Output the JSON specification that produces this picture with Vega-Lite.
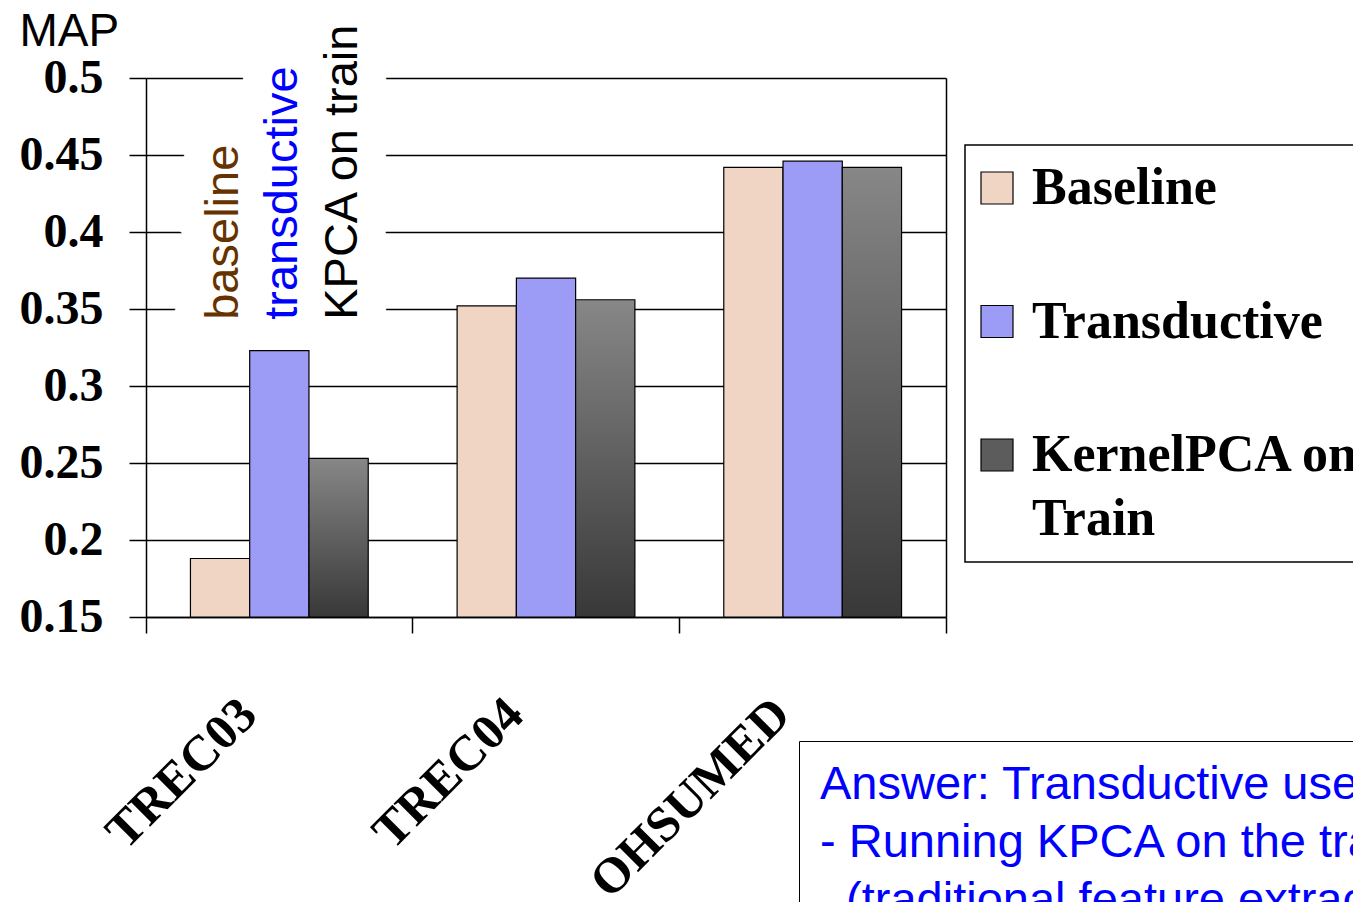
{
  "$schema": "https://vega.github.io/schema/vega-lite/v6.json",
  "autosize": "none",
  "width": 800,
  "height": 539,
  "padding": {"left": 146, "top": 78, "right": 407, "bottom": 285},
  "background": "white",
  "config": {
    "view": {"stroke": null},
    "axis": {"domainColor": "black", "tickColor": "black", "gridColor": "black"}
  },
  "datasets": {
    "scores": [
      {"dataset": "TREC03", "series": "Baseline", "map": 0.188},
      {"dataset": "TREC03", "series": "Transductive", "map": 0.323},
      {"dataset": "TREC03", "series": "KernelPCA on Train", "map": 0.253},
      {"dataset": "TREC04", "series": "Baseline", "map": 0.352},
      {"dataset": "TREC04", "series": "Transductive", "map": 0.370},
      {"dataset": "TREC04", "series": "KernelPCA on Train", "map": 0.356},
      {"dataset": "OHSUMED", "series": "Baseline", "map": 0.442},
      {"dataset": "OHSUMED", "series": "Transductive", "map": 0.446},
      {"dataset": "OHSUMED", "series": "KernelPCA on Train", "map": 0.442}
    ],
    "notes": [
      {"dataset": "TREC03", "series": "Baseline", "note": "baseline"},
      {"dataset": "TREC03", "series": "Transductive", "note": "transductive"},
      {"dataset": "TREC03", "series": "KernelPCA on Train", "note": "KPCA on train"}
    ]
  },
  "resolve": {"axis": {"x": "independent", "y": "independent"}},
  "layer": [
    {
      "data": {"name": "scores"},
      "mark": {"type": "bar", "stroke": "black", "strokeWidth": 1.2},
      "encoding": {
        "x": {
          "field": "dataset", "type": "nominal",
          "sort": ["TREC03", "TREC04", "OHSUMED"],
          "scale": {"paddingInner": 0, "paddingOuter": 0},
          "axis": {
            "orient": "bottom",
            "title": null,
            "ticks": false, "tickSize": 0,
            "domain": true, "domainWidth": 1.5,
            "labelAngle": -45, "labelAlign": "right", "labelBaseline": "alphabetic",
            "labelFont": "Liberation Serif", "labelFontWeight": "bold", "labelFontSize": 50,
            "labelColor": "black", "labelOffset": -20, "labelPadding": 100,
            "labelLimit": 1000, "labelOverlap": false, "labelBound": false, "labelFlush": false
          }
        },
        "xOffset": {
          "field": "series", "type": "nominal",
          "sort": ["Baseline", "Transductive", "KernelPCA on Train"],
          "scale": {"domain": ["Baseline", "Transductive", "KernelPCA on Train"], "paddingInner": 0, "paddingOuter": 0.75}
        },
        "y": {
          "field": "map", "type": "quantitative",
          "scale": {"domain": [0.15, 0.5], "nice": false, "zero": false},
          "axis": {
            "values": [0.15, 0.2, 0.25, 0.3, 0.35, 0.4, 0.45, 0.5],
            "format": ".2~f",
            "grid": true, "gridWidth": 1.5, "gridOpacity": 1,
            "domain": true, "domainWidth": 1.5,
            "tickSize": 17, "tickWidth": 1.5,
            "labelFont": "Liberation Serif", "labelFontWeight": "bold", "labelFontSize": 48,
            "labelColor": "black", "labelPadding": 26, "labelBaseline": "middle",
            "title": "MAP", "titleAngle": 0, "titleFont": "Liberation Sans", "titleFontSize": 46,
            "titleFontWeight": "normal", "titleColor": "black",
            "titleX": -127, "titleY": -33, "titleAlign": "left", "titleBaseline": "alphabetic"
          }
        },
        "y2": {"datum": 0.15},
        "fill": {
          "condition": {
            "test": "datum.series === 'KernelPCA on Train'",
            "value": {"gradient": "linear", "x1": 0, "y1": 0, "x2": 0, "y2": 1,
                      "stops": [{"offset": 0, "color": "#878787"}, {"offset": 1, "color": "#383838"}]}
          },
          "field": "series", "type": "nominal",
          "scale": {
            "domain": ["Baseline", "Transductive", "KernelPCA on Train"],
            "range": ["#f0d5c5", "#9c9cf6", "#5c5c5c"]
          },
          "legend": {
            "title": null,
            "orient": "none", "legendX": 819, "legendY": 67,
            "strokeColor": "black", "padding": 17, "fillColor": "white",
            "symbolType": "square", "symbolSize": 1024, "symbolStrokeColor": "black", "symbolStrokeWidth": 1,
            "symbolOffset": -11,
            "labelFont": "Liberation Serif", "labelFontWeight": "bold", "labelFontSize": 52,
            "labelColor": "black", "labelOffset": 9, "labelLimit": 1000, "rowPadding": 81.5,
            "labelExpr": "datum.label === 'KernelPCA on Train' ? ['KernelPCA on', 'Train'] : datum.label",
            "encode": {
              "legend": {"update": {"strokeWidth": {"value": 1.5}}},
              "labels": {"update": {"lineHeight": {"value": 64}}},
              "symbols": {
                "update": {
                  "stroke": {"value": "black"},
                  "strokeWidth": {"value": 1.2},
                  "fill": {"signal": "datum.label === 'KernelPCA on Train' ? {gradient: 'linear', x1: 0, y1: 0, x2: 0, y2: 1, stops: [{offset: 0, color: '#878787'}, {offset: 1, color: '#383838'}]} : scale('fill', datum.value)"}
                }
              }
            }
          }
        }
      }
    },
    {
      "data": {"name": "notes"},
      "mark": {"type": "text", "angle": 270, "align": "left", "baseline": "alphabetic", "dy": 18,
               "font": "Liberation Sans", "fontSize": 47, "fill": "white", "stroke": "white",
               "strokeWidth": 58, "strokeJoin": "round"},
      "encoding": {
        "x": {
          "field": "dataset", "type": "nominal",
          "sort": ["TREC03", "TREC04", "OHSUMED"],
          "axis": {
            "orient": "bottom",
            "title": null, "labels": false, "domain": false, "grid": false,
            "ticks": true, "tickSize": 16, "tickWidth": 1.5, "bandPosition": 1, "tickExtra": true
          }
        },
        "xOffset": {"field": "series", "type": "nominal", "sort": ["Baseline", "Transductive", "KernelPCA on Train"]},
        "y": {
          "datum": 0.343, "type": "quantitative",
          "axis": {"orient": "right", "title": null, "labels": false, "ticks": false, "grid": false,
                   "domain": true, "domainWidth": 1.5}
        },
        "text": {"field": "note"}
      }
    },
    {
      "data": {"name": "notes"},
      "mark": {"type": "text", "angle": 270, "align": "left", "baseline": "alphabetic", "dy": 18,
               "font": "Liberation Sans", "fontSize": 47},
      "encoding": {
        "x": {"field": "dataset", "type": "nominal", "sort": ["TREC03", "TREC04", "OHSUMED"], "axis": null},
        "xOffset": {"field": "series", "type": "nominal", "sort": ["Baseline", "Transductive", "KernelPCA on Train"]},
        "y": {"datum": 0.343, "type": "quantitative", "axis": null},
        "text": {"field": "note"},
        "fill": {
          "condition": [
            {"test": "datum.note === 'baseline'", "value": "#663300"},
            {"test": "datum.note === 'transductive'", "value": "#0000ff"}
          ],
          "value": "black"
        }
      }
    },
    {
      "data": {"name": "notes"},
      "transform": [{"filter": "datum.note === 'baseline'"}],
      "mark": {"type": "point", "opacity": 0},
      "encoding": {
        "x": {"field": "dataset", "type": "nominal", "sort": ["TREC03", "TREC04", "OHSUMED"], "axis": null},
        "xOffset": {"field": "series", "type": "nominal", "sort": ["Baseline", "Transductive", "KernelPCA on Train"]},
        "y": {"datum": 0.343, "type": "quantitative", "axis": null},
        "shape": {
          "field": "note", "type": "nominal",
          "legend": {
            "title": ["Answer: Transductive uses", "- Running KPCA on the train", "\u200b\u00a0\u00a0(traditional feature extraction)"],
            "orient": "none", "legendX": 653, "legendY": 663,
            "strokeColor": "black", "padding": 21, "fillColor": "white",
            "titleFont": "Liberation Sans", "titleFontSize": 47, "titleFontWeight": "normal",
            "titleColor": "#0000ff", "titleLineHeight": 58, "titleLimit": 3000, "titleBaseline": "top",
            "symbolOpacity": 0, "labelExpr": "''",
            "encode": {"legend": {"update": {"strokeWidth": {"value": 1.5}}}}
          }
        }
      }
    }
  ]
}
